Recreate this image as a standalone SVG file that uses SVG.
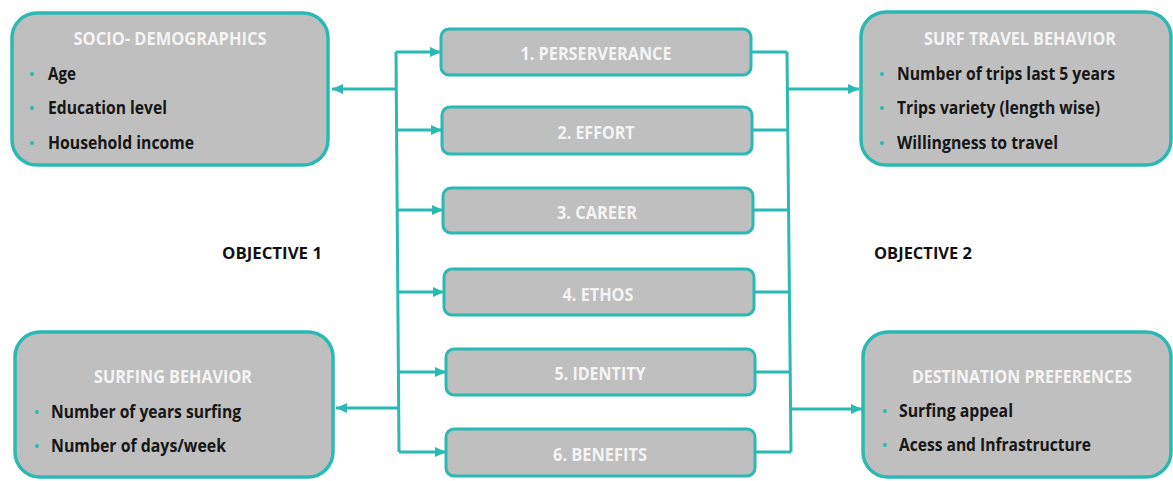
<svg xmlns="http://www.w3.org/2000/svg" width="1173" height="481" viewBox="0 0 1173 481">
  <defs>
    <marker id="arrow" markerUnits="userSpaceOnUse" markerWidth="12" markerHeight="10" refX="11" refY="5" orient="auto">
      <path d="M0,0 L11,5 L0,10 Z" fill="#2bbab3"/>
    </marker>
    <style>
      .big { fill: #bfbfbf; stroke: #2bbab3; stroke-width: 3.5; }
      .mid { fill: #bfbfbf; stroke: #2bbab3; stroke-width: 3; }
      .title { font-family: "Open Sans", Lato, sans-serif; font-weight: bold; font-size: 17px; fill: #f4f4f4; text-anchor: middle; }
      .item { font-family: "Open Sans", Lato, sans-serif; font-weight: bold; font-size: 18.5px; fill: #161616; }
      .label { font-family: "Open Sans", Lato, sans-serif; font-weight: bold; font-size: 17.5px; fill: #f4f4f4; text-anchor: middle; }
      .obj { font-family: "Open Sans", Lato, sans-serif; font-weight: bold; font-size: 16px; fill: #111111; }
      .dot { fill: #2bbab3; }
      .wire { fill: none; stroke: #2bbab3; stroke-width: 3; }
      .arr { fill: none; stroke: #2bbab3; stroke-width: 3; marker-end: url(#arrow); }
    </style>
  </defs>
  <rect width="1173" height="481" fill="#ffffff"/>

  <!-- connectors -->
  <g id="connectors">
    <!-- left spine and its branches -->
    <path class="wire" d="M396,52 L399,452"/>
    <path class="arr" d="M396,52 L441,52"/>
    <path class="arr" d="M397,130 L442,130"/>
    <path class="arr" d="M397,210 L443,210"/>
    <path class="arr" d="M398,292 L444,292"/>
    <path class="arr" d="M398,372 L446,372"/>
    <path class="arr" d="M399,452 L446,452"/>
    <path class="arr" d="M396,89 L332,89"/>
    <path class="arr" d="M398,408 L336,408"/>
    <!-- right spine and its branches -->
    <path class="wire" d="M787,52 L791,452"/>
    <path class="wire" d="M751,52 L787,52"/>
    <path class="wire" d="M752,130 L788,130"/>
    <path class="wire" d="M753,210 L789,210"/>
    <path class="wire" d="M754,292 L789,292"/>
    <path class="wire" d="M755,372 L790,372"/>
    <path class="wire" d="M755,452 L791,452"/>
    <path class="arr" d="M788,89 L859,89"/>
    <path class="arr" d="M790,409 L862,409"/>
  </g>

  <!-- socio-demographics -->
  <g id="socio-demographics">
    <rect class="big" x="12" y="13" width="316" height="152" rx="25"/>
    <text class="title" x="170" y="45" textLength="193" lengthAdjust="spacingAndGlyphs">SOCIO- DEMOGRAPHICS</text>
    <circle class="dot" cx="32" cy="74" r="2"/>
    <text class="item" x="48" y="80" textLength="28" lengthAdjust="spacingAndGlyphs">Age</text>
    <circle class="dot" cx="32" cy="108" r="2"/>
    <text class="item" x="48" y="114" textLength="119" lengthAdjust="spacingAndGlyphs">Education level</text>
    <circle class="dot" cx="32" cy="143" r="2"/>
    <text class="item" x="48" y="149" textLength="146" lengthAdjust="spacingAndGlyphs">Household income</text>
  </g>

  <!-- surfing behavior -->
  <g id="surfing-behavior">
    <rect class="big" x="15" y="332" width="318" height="145" rx="25"/>
    <text class="title" x="173" y="383" textLength="158" lengthAdjust="spacingAndGlyphs">SURFING BEHAVIOR</text>
    <circle class="dot" cx="37" cy="412" r="2"/>
    <text class="item" x="51" y="418" textLength="190" lengthAdjust="spacingAndGlyphs">Number of years surfing</text>
    <circle class="dot" cx="37" cy="446" r="2"/>
    <text class="item" x="51" y="452" textLength="175" lengthAdjust="spacingAndGlyphs">Number of days/week</text>
  </g>

  <!-- surf travel behavior -->
  <g id="surf-travel-behavior">
    <rect class="big" x="861" y="12" width="310" height="153" rx="25"/>
    <text class="title" x="1020" y="45" textLength="192" lengthAdjust="spacingAndGlyphs">SURF TRAVEL BEHAVIOR</text>
    <circle class="dot" cx="882" cy="74" r="2"/>
    <text class="item" x="897" y="80" textLength="218" lengthAdjust="spacingAndGlyphs">Number of trips last 5 years</text>
    <circle class="dot" cx="882" cy="108" r="2"/>
    <text class="item" x="897" y="114" textLength="203" lengthAdjust="spacingAndGlyphs">Trips variety (length wise)</text>
    <circle class="dot" cx="882" cy="143" r="2"/>
    <text class="item" x="897" y="149" textLength="161" lengthAdjust="spacingAndGlyphs">Willingness to travel</text>
  </g>

  <!-- destination preferences -->
  <g id="destination-preferences">
    <rect class="big" x="863" y="332" width="308" height="145" rx="25"/>
    <text class="title" x="1022" y="383" textLength="220" lengthAdjust="spacingAndGlyphs">DESTINATION PREFERENCES</text>
    <circle class="dot" cx="885" cy="411" r="2"/>
    <text class="item" x="899" y="417" textLength="114" lengthAdjust="spacingAndGlyphs">Surfing appeal</text>
    <circle class="dot" cx="885" cy="445" r="2"/>
    <text class="item" x="899" y="451" textLength="192" lengthAdjust="spacingAndGlyphs">Acess and Infrastructure</text>
  </g>

  <!-- motivation factors -->
  <g id="perserverance">
    <rect class="mid" x="441" y="29" width="310" height="46" rx="8"/>
    <text class="label" x="596" y="60" textLength="151" lengthAdjust="spacingAndGlyphs">1. PERSERVERANCE</text>
  </g>
  <g id="effort">
    <rect class="mid" x="442" y="107" width="310" height="47" rx="8"/>
    <text class="label" x="596" y="139" textLength="77" lengthAdjust="spacingAndGlyphs">2. EFFORT</text>
  </g>
  <g id="career">
    <rect class="mid" x="443" y="188" width="310" height="45" rx="8"/>
    <text class="label" x="597" y="219" textLength="80" lengthAdjust="spacingAndGlyphs">3. CAREER</text>
  </g>
  <g id="ethos">
    <rect class="mid" x="444" y="269" width="310" height="46" rx="8"/>
    <text class="label" x="598" y="301" textLength="71" lengthAdjust="spacingAndGlyphs">4. ETHOS</text>
  </g>
  <g id="identity">
    <rect class="mid" x="446" y="349" width="309" height="46" rx="8"/>
    <text class="label" x="600" y="380" textLength="91" lengthAdjust="spacingAndGlyphs">5. IDENTITY</text>
  </g>
  <g id="benefits">
    <rect class="mid" x="446" y="429" width="309" height="47" rx="8"/>
    <text class="label" x="600" y="461" textLength="94" lengthAdjust="spacingAndGlyphs">6. BENEFITS</text>
  </g>

  <!-- objectives -->
  <g id="objective-1">
    <text class="obj" x="222" y="259" textLength="100" lengthAdjust="spacingAndGlyphs">OBJECTIVE 1</text>
  </g>
  <g id="objective-2">
    <text class="obj" x="874" y="259" textLength="98" lengthAdjust="spacingAndGlyphs">OBJECTIVE 2</text>
  </g>
</svg>
